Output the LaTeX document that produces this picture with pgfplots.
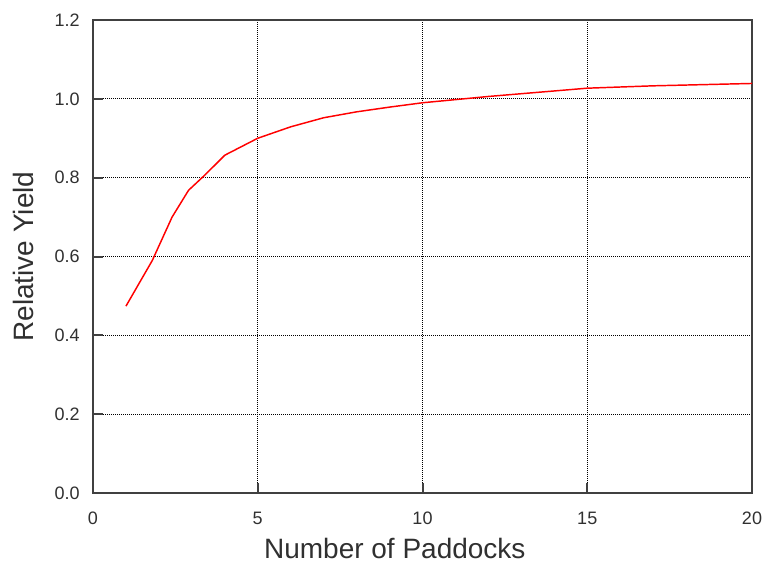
\documentclass[border=0pt]{standalone}
\usepackage{pgfplots}
\pgfplotsset{compat=1.18}
\usepackage{fontspec}
\setmainfont{Liberation Sans}
\definecolor{axisgray}{HTML}{404040}
\definecolor{textgray}{HTML}{303030}
\begin{document}
\begin{tikzpicture}
\begin{axis}[
  at={(0,0)}, anchor=south west,
  scale only axis,
  width=494.25pt, height=354.75pt,
  xmin=0, xmax=20, ymin=0, ymax=1.2,
  xtick={0,5,...,20},
  ytick={0,0.2,...,1.2},
  xtick pos=left, ytick pos=left,
  tick align=inside,
  major tick length=7.5pt,
  every tick/.style={axisgray, line width=1.5pt},
  axis line style={axisgray, line width=1.5pt},
  grid=major,
  major grid style={black, line width=0.75pt, dash pattern=on 0.75pt off 0.75pt},
  /pgf/number format/assume math mode=true,
  yticklabel={\pgfmathprintnumber[fixed, fixed zerofill, precision=1]{\tick}},
  every x tick label/.style={anchor=center, inner sep=0pt, yshift=-18.75pt,
    font=\fontsize{13.5}{16}\selectfont, text=textgray},
  every y tick label/.style={anchor=east, inner sep=0pt, xshift=-9.75pt,
    font=\fontsize{13.5}{16}\selectfont, text=textgray},
  every axis x label/.style={at={(axis description cs:0.458,-0.138)}, anchor=base,
    inner sep=0pt, font=\fontsize{21}{25}\selectfont, text=textgray},
  every axis y label/.style={at={(axis description cs:-0.091,0.5)}, anchor=base,
    inner sep=0pt, rotate=90, font=\fontsize{21}{25}\selectfont, text=textgray},
  xlabel={Number of Paddocks},
  ylabel={Relative Yield},
]
\addplot[red, line width=1.1pt, no markers] coordinates {
  (1,0.474) (1.8,0.590) (2.4,0.700) (2.9,0.768) (3.4,0.807)
  (4,0.857) (5,0.900) (6,0.929) (7,0.952) (8,0.967) (9,0.979)
  (10,0.990) (11,0.998) (12,1.006) (13,1.013) (14,1.020)
  (15,1.027) (16,1.030) (17,1.033) (18,1.035) (19,1.037) (20,1.039)
};
\end{axis}
\pgfresetboundingbox
\useasboundingbox (-69.75pt,-53.25pt) rectangle (504.75pt,369.75pt);
\end{tikzpicture}
\end{document}
